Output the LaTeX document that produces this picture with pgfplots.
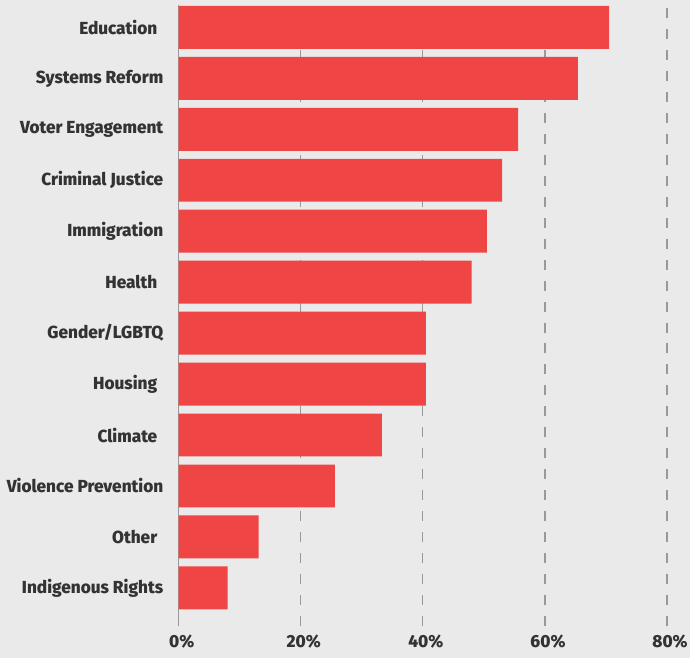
\documentclass[border=0pt]{standalone}
\usepackage{fontspec}
\setmainfont{Fira Sans}[FakeStretch=0.985, BoldFont={Fira Sans ExtraBold}]
\usepackage{pgfplots}
\pgfplotsset{compat=1.18}
\definecolor{bgcol}{HTML}{EAEAEA}
\definecolor{barcol}{HTML}{F04545}
\definecolor{txtcol}{HTML}{333333}
\definecolor{gridcol}{HTML}{999999}
\begin{document}
\begin{tikzpicture}
\fill[bgcol] (-179bp,-32bp) rectangle (512bp,627bp);
\begin{axis}[
  at={(0,0)}, anchor=south west,
  scale only axis,
  width=489bp, height=622bp,
  xmin=0, xmax=80,
  ymin=-0.75, ymax=11.44,
  axis line style={draw=none},
  xtick={0,20,40,60,80},
  xticklabels={0\%,20\%,40\%,60\%,80\%},
  ytick={0,...,11},
  yticklabels={Indigenous Rights,Other\kern6bp,Violence Prevention,Climate\kern6bp,Housing\kern6bp,Gender/LGBTQ,Health\kern6bp,Immigration,Criminal Justice,Voter Engagement,Systems Reform,Education\kern6bp},
  major tick length=0pt,
  tick label style={font=\fontsize{17.5bp}{20bp}\selectfont\bfseries, text=txtcol},
  yticklabel style={anchor=east, xshift=-12bp},
  xticklabel style={yshift=-5bp, xshift=3bp},
  xmajorgrids,
  extra x ticks={0},
  extra x tick labels={},
  extra x tick style={grid=major, major grid style={solid, gridcol, line width=1.4bp}},
  major grid style={gridcol, line width=1.2bp, dash pattern=on 10bp off 11bp},
]
\addplot[xbar, bar width=43bp, fill=barcol, draw=none] coordinates {
(8.0,0) (13.1,1) (25.6,2) (33.3,3) (40.5,4) (40.5,5) (48.0,6) (50.5,7) (53.0,8) (55.6,9) (65.4,10) (70.5,11)
};
\end{axis}
\end{tikzpicture}
\end{document}
